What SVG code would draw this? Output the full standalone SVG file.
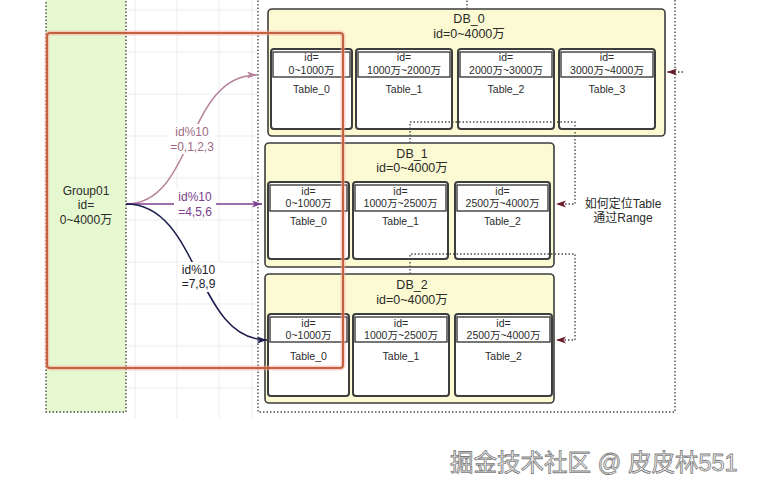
<svg xmlns="http://www.w3.org/2000/svg" width="758" height="494" viewBox="0 0 758 494">
<style>
text{font-family:"Liberation Sans","Noto Sans CJK SC",sans-serif;fill:#2b2b2b;text-anchor:middle}
.grid{stroke:#ececec;stroke-width:1}
.dot{stroke:#4a4a4a;stroke-width:1.4;stroke-dasharray:1.5 2}
.green{fill:#e6f8cf}
.white{fill:#ffffff}
.db{fill:#fbfad2;stroke:#3d3d3d;stroke-width:1.6}
.tbl{fill:#ffffff;stroke:#3d3d3d;stroke-width:2}
.hdr{fill:#ffffff;stroke:#3d3d3d;stroke-width:1.4}
.t{font-size:10.5px}
.dbt{font-size:12.5px}
.lbl{font-size:12px}
.conn{fill:none;stroke:#4a4a4a;stroke-width:1.4;stroke-dasharray:1.5 2}
</style>
<defs>
<marker id="aPink" markerUnits="userSpaceOnUse" markerWidth="11" markerHeight="8" refX="10" refY="3.5" orient="auto"><path d="M0,0 L10,3.5 L0,7 L2.5,3.5 z" fill="#b5809a"/></marker>
<marker id="aPurple" markerUnits="userSpaceOnUse" markerWidth="11" markerHeight="8" refX="10" refY="3.5" orient="auto"><path d="M0,0 L10,3.5 L0,7 L2.5,3.5 z" fill="#7b3f8e"/></marker>
<marker id="aNavy" markerUnits="userSpaceOnUse" markerWidth="11" markerHeight="8" refX="10" refY="3.5" orient="auto"><path d="M0,0 L10,3.5 L0,7 L2.5,3.5 z" fill="#1c1c4e"/></marker>
<marker id="aRed" markerUnits="userSpaceOnUse" markerWidth="11" markerHeight="8" refX="10" refY="3.5" orient="auto"><path d="M0,0 L10,3.5 L0,7 L2.5,3.5 z" fill="#6b1a28"/></marker>
</defs>
<rect width="758" height="494" fill="#ffffff"/>
<!-- faint grid -->
<g id="grid">
<path class="grid" d="M135,0V418 M177,0V418 M219,0V418 M252,0V418 M126,10H258 M126,52H258 M126,94H258 M126,136H258 M126,178H258 M126,220H258 M126,262H258 M126,304H258 M126,346H258 M126,388H258"/>
</g>
<!-- green group panel -->
<g id="group01">
<rect x="46" y="-10" width="80" height="422" class="dot green"/>
<text class="lbl" x="86" y="194.5">Group01</text>
<text class="lbl" x="86" y="208.5">id=</text>
<text class="lbl" x="86" y="223.5">0~4000万</text>
</g>
<!-- container -->
<g id="container">
<rect x="258" y="-10" width="417" height="422" class="dot white"/>
</g>
<!-- DB_0 -->
<g id="db0">
<rect class="db" x="268" y="9" width="397" height="127" rx="4"/>
<text class="dbt" x="469" y="22.5">DB_0</text>
<text class="dbt" x="469" y="37.5">id=0~4000万</text>
<g id="db0-table0"><rect class="tbl" x="271" y="49" width="81" height="80" rx="3"/><rect class="hdr" x="273" y="52" width="77" height="25"/><text class="t" x="311.5" y="60.7">id=</text><text class="t" x="311.5" y="73.7">0~1000万</text><text class="t" x="311.5" y="92.7">Table_0</text></g>
<g id="db0-table1"><rect class="tbl" x="356" y="49" width="96" height="80" rx="3"/><rect class="hdr" x="358" y="52" width="92" height="25"/><text class="t" x="404" y="60.7">id=</text><text class="t" x="404" y="73.7">1000万~2000万</text><text class="t" x="404" y="92.7">Table_1</text></g>
<g id="db0-table2"><rect class="tbl" x="458" y="49" width="96" height="80" rx="3"/><rect class="hdr" x="460" y="52" width="92" height="25"/><text class="t" x="506" y="60.7">id=</text><text class="t" x="506" y="73.7">2000万~3000万</text><text class="t" x="506" y="92.7">Table_2</text></g>
<g id="db0-table3"><rect class="tbl" x="559" y="49" width="96" height="80" rx="3"/><rect class="hdr" x="561" y="52" width="92" height="25"/><text class="t" x="607" y="60.7">id=</text><text class="t" x="607" y="73.7">3000万~4000万</text><text class="t" x="607" y="92.7">Table_3</text></g>
</g>
<!-- DB_1 -->
<g id="db1">
<rect class="db" x="265" y="143" width="289" height="124" rx="4"/>
<text class="dbt" x="412" y="157.5">DB_1</text>
<text class="dbt" x="412" y="171.5">id=0~4000万</text>
<g id="db1-table0"><rect class="tbl" x="268" y="182" width="81" height="77" rx="3"/><rect class="hdr" x="270" y="185" width="77" height="26"/><text class="t" x="308.5" y="194.7">id=</text><text class="t" x="308.5" y="206.7">0~1000万</text><text class="t" x="308.5" y="224.7">Table_0</text></g>
<g id="db1-table1"><rect class="tbl" x="353" y="182" width="95" height="77" rx="3"/><rect class="hdr" x="355" y="185" width="91" height="26"/><text class="t" x="400.5" y="194.7">id=</text><text class="t" x="400.5" y="206.7">1000万~2500万</text><text class="t" x="400.5" y="224.7">Table_1</text></g>
<g id="db1-table2"><rect class="tbl" x="455" y="182" width="95" height="77" rx="3"/><rect class="hdr" x="457" y="185" width="91" height="26"/><text class="t" x="502.5" y="194.7">id=</text><text class="t" x="502.5" y="206.7">2500万~4000万</text><text class="t" x="502.5" y="224.7">Table_2</text></g>
</g>
<!-- DB_2 -->
<g id="db2">
<rect class="db" x="265" y="274" width="289" height="129" rx="4"/>
<text class="dbt" x="412" y="288.5">DB_2</text>
<text class="dbt" x="412" y="303.5">id=0~4000万</text>
<g id="db2-table0"><rect class="tbl" x="268" y="314" width="81" height="82" rx="3"/><rect class="hdr" x="270" y="317" width="77" height="25"/><text class="t" x="308.5" y="326.7">id=</text><text class="t" x="308.5" y="338.7">0~1000万</text><text class="t" x="308.5" y="359.7">Table_0</text></g>
<g id="db2-table1"><rect class="tbl" x="353" y="314" width="96" height="82" rx="3"/><rect class="hdr" x="355" y="317" width="92" height="25"/><text class="t" x="401" y="326.7">id=</text><text class="t" x="401" y="338.7">1000万~2500万</text><text class="t" x="401" y="359.7">Table_1</text></g>
<g id="db2-table2"><rect class="tbl" x="455" y="314" width="97" height="82" rx="3"/><rect class="hdr" x="457" y="317" width="93" height="25"/><text class="t" x="503.5" y="326.7">id=</text><text class="t" x="503.5" y="338.7">2500万~4000万</text><text class="t" x="503.5" y="359.7">Table_2</text></g>
</g>
<!-- note -->
<g id="note">
<text class="lbl" x="623" y="207.5">如何定位Table</text>
<text class="lbl" x="623" y="221.5">通过Range</text>
</g>
<!-- connectors -->
<g id="connectors">
<path class="conn" d="M467,9 V-4"/>
<path class="conn" d="M683,72 H667" marker-end="url(#aRed)"/>
<path class="conn" d="M410,143 V122 H575 V204 H556" marker-end="url(#aRed)"/>
<path class="conn" d="M410,274 V254 H575 V340 H556" marker-end="url(#aRed)"/>
<path d="M126,204 C195,204 185,75 257,75" fill="none" stroke="#b5809a" stroke-width="1.5" marker-end="url(#aPink)"/>
<path d="M126,204 H262" fill="none" stroke="#7b3f8e" stroke-width="1.5" marker-end="url(#aPurple)"/>
<path d="M126,204 C200,204 195,340 267,340" fill="none" stroke="#1c1c4e" stroke-width="1.5" marker-end="url(#aNavy)"/>
<rect x="169" y="124" width="46" height="30" fill="#ffffff"/>
<text class="lbl" x="192" y="136.2" style="fill:#a06a85">id%10</text>
<text class="lbl" x="192" y="151.2" style="fill:#a06a85">=0,1,2,3</text>
<rect x="174" y="189" width="42" height="30" fill="#ffffff"/>
<text class="lbl" x="195" y="201.2" style="fill:#7b3f8e">id%10</text>
<text class="lbl" x="195" y="216.2" style="fill:#7b3f8e">=4,5,6</text>
<rect x="178" y="262" width="42" height="30" fill="#ffffff"/>
<text class="lbl" x="198.5" y="274.2" style="fill:#1a1a2a">id%10</text>
<text class="lbl" x="198.5" y="288.2" style="fill:#1a1a2a">=7,8,9</text>
</g>
<!-- red highlight -->
<g id="highlight">
<rect x="47" y="33" width="296" height="335" rx="3" fill="none" stroke="#f4a8a0" stroke-opacity="0.5" stroke-width="5"/>
<rect x="47" y="33" width="296" height="335" rx="3" fill="none" stroke="#c4623f" stroke-width="2"/>
</g>
<!-- watermark -->
<text x="450" y="471" style="font-size:23.5px;text-anchor:start;fill:#f4f4f4;stroke:#7d7d7d;stroke-width:0.8">掘金技术社区 @ 皮皮林551</text>
</svg>
